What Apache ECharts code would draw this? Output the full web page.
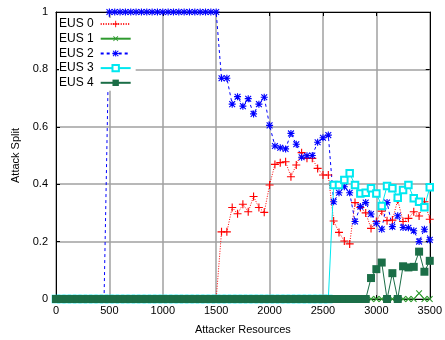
<!DOCTYPE html>
<html>
<head>
<meta charset="utf-8">
<script src="https://cdn.jsdelivr.net/npm/echarts@6/dist/echarts.min.js"></script>
<style>html,body{margin:0;padding:0;background:#fff}#c{width:445px;height:340px}</style>
</head>
<body>
<div id="c"></div>
<script>
var resources = [0,50,100,150,200,250,300,350,400,450,500,550,600,650,700,750,800,850,900,950,
1000,1050,1100,1150,1200,1250,1300,1350,1400,1450,1500,1550,1600,1650,1700,1750,1800,1850,1900,1950,
2000,2050,2100,2150,2200,2250,2300,2350,2400,2450,2500,2550,2600,2650,2700,2750,2800,2850,2900,2950,
3000,3050,3100,3150,3200,3250,3300,3350,3400,3450,3500];

var eus0 = [0,0,0,0,0,0,0,0,0,0,0,0,0,0,0,0,0,0,0,0,0,0,0,0,0,0,0,0,0,0,0,
0.234,0.234,0.319,0.297,0.33,0.304,0.357,0.319,0.302,0.397,0.469,0.475,0.478,0.426,0.467,0.51,0.49,0.49,0.455,0.432,
0.432,0.272,0.232,0.202,0.192,0.336,0.319,0.30,0.246,0.27,0.306,0.273,0.275,0.345,0.27,0.281,0.304,0.289,0.339,0.278];

var eus1 = [0,0,0,0,0,0,0,0,0,0,0,0,0,0,0,0,0,0,0,0,0,0,0,0,0,0,0,0,0,0,0,
0,0,0,0,0,0,0,0,0,0,0,0,0,0,0,0,0,0,0,0,0,0,0,0,0,0,0,0,0,0,0,0,0,0,0,0,0,0.02,0,0];

var eus2 = [0,0,0,0,0,0,0,0,0,0,1,1,1,1,1,1,1,1,1,1,1,1,1,1,1,1,1,1,1,1,1,
0.769,0.769,0.679,0.705,0.672,0.698,0.645,0.679,0.703,0.605,0.533,0.527,0.523,0.577,0.539,0.494,0.499,0.50,0.546,0.562,
0.571,0.339,0.37,0.391,0.37,0.27,0.322,0.336,0.296,0.264,0.243,0.336,0.252,0.29,0.249,0.248,0.238,0.2,0.243,0.206];

var eus3 = [0,0,0,0,0,0,0,0,0,0,0,0,0,0,0,0,0,0,0,0,0,0,0,0,0,0,0,0,0,0,0,0,0,0,0,0,0,0,0,0,0,0,0,0,0,0,0,0,0,0,0,0,
0.397,0.397,0.415,0.438,0.397,0.368,0.37,0.386,0.368,0.324,0.394,0.386,0.353,0.38,0.397,0.351,0.339,0.32,0.389];

var eus4 = [0,0,0,0,0,0,0,0,0,0,0,0,0,0,0,0,0,0,0,0,0,0,0,0,0,0,0,0,0,0,0,0,0,0,0,0,0,0,0,0,0,0,0,0,0,0,0,0,0,0,0,0,0,0,0,0,0,0,0,
0.073,0.104,0.127,0,0.09,0,0.114,0.11,0.112,0.165,0.095,0.133];

var names = ['EUS 0','EUS 1','EUS 2','EUS 3','EUS 4'];
var yTicks = ['0','0.2','0.4','0.6','0.8','1'];

var PLUS = 'path://M4.3,0H5.7V4.3H10V5.7H5.7V10H4.3V5.7H0V4.3H4.3Z';
var STAR = 'path://M4.2,0H5.8V4.2H10V5.8H5.8V10H4.2V5.8H0V4.2H4.2Z M1.4,0.3L5,3.9L8.6,0.3L9.7,1.4L6.1,5L9.7,8.6L8.6,9.7L5,6.1L1.4,9.7L0.3,8.6L3.9,5L0.3,1.4Z M3,3H7V7H3Z';

function pairs(vals){ return resources.map(function(r,i){ return [r, vals[i]]; }); }

var font = 'Liberation Sans, Arial, sans-serif';
var grayLine = {show: true, lineStyle: {color: '#a0a0a0', width: 1.5}};
var tick = {show: true, inside: true, length: 4, lineStyle: {color: '#000'}};
var chart = echarts.init(document.getElementById('c'), null, {renderer:'canvas'});
chart.setOption({
  animation: false,
  backgroundColor: '#fff',
  grid: {left: 56, right: 13, top: 12, bottom: 41},
  legend: {
    orient: 'vertical', left: 59, top: 18, align: 'right',
    itemWidth: 30, itemHeight: 8, itemGap: 2.7,
    backgroundColor: '#fff', padding: [0,4,2,0],
    textStyle: {fontFamily: font, fontSize: 12, color: '#000', padding: [0,2,0,0]},
    data: names
  },
  xAxis: [{
    type: 'value', min: 0, max: 3500, interval: 500,
    name: 'Attacker Resources', nameLocation: 'middle', nameGap: 25,
    nameTextStyle: {fontFamily: font, fontSize: 11, color: '#000'},
    axisLine: {show: true, lineStyle: {color: '#000'}},
    axisTick: tick,
    axisLabel: {fontFamily: font, fontSize: 11, color: '#000', margin: 6,
      formatter: function(v){ return String(v); }},
    splitLine: grayLine
  }, {
    type: 'value', position: 'top', min: 0, max: 3500, interval: 500,
    axisLine: {show: true, onZero: false, lineStyle: {color: '#000'}},
    axisTick: tick, axisLabel: {show: false}, splitLine: {show: false}
  }],
  yAxis: [{
    type: 'value', min: 0, max: 1, interval: 0.2,
    name: 'Attack Split', nameLocation: 'middle', nameGap: 33, nameRotate: 90,
    nameTextStyle: {fontFamily: font, fontSize: 11, color: '#000'},
    axisLine: {show: true, lineStyle: {color: '#000'}},
    axisTick: tick,
    axisLabel: {fontFamily: font, fontSize: 11, color: '#000', margin: 8,
      formatter: function(v){ return yTicks[Math.round(v/0.2)]; }},
    splitLine: grayLine
  }, {
    type: 'value', position: 'right', min: 0, max: 1, interval: 0.2,
    axisLine: {show: true, onZero: false, lineStyle: {color: '#000'}},
    axisTick: tick, axisLabel: {show: false}, splitLine: {show: false}
  }],
  series: [
    {name: names[0], type: 'line', data: pairs(eus0), symbol: PLUS, symbolSize: 8,
     itemStyle: {color: '#ff0000'}, lineStyle: {color: '#ff0000', width: 1, type: [1,1.5]}},
    {name: names[1], type: 'line', data: pairs(eus1), symbol: PLUS, symbolRotate: 45, symbolSize: 8,
     itemStyle: {color: '#2f9a2f'}, lineStyle: {color: '#2f9a2f', width: 1}},
    {name: names[2], type: 'line', data: pairs(eus2), symbol: STAR, symbolSize: 7,
     itemStyle: {color: '#0000ff'}, lineStyle: {color: '#0000ff', width: 1, type: [3,3]}},
    {name: names[3], type: 'line', data: pairs(eus3), symbol: 'emptyRect', symbolSize: 6.5,
     itemStyle: {color: '#00e8f0', borderWidth: 1}, lineStyle: {color: '#00e8f0', width: 1}},
    {name: names[4], type: 'line', data: pairs(eus4), symbol: 'rect', symbolSize: 8,
     itemStyle: {color: '#1b6e47'}, lineStyle: {color: '#1b6e47', width: 1}}
  ]
});
</script>
</body>
</html>
